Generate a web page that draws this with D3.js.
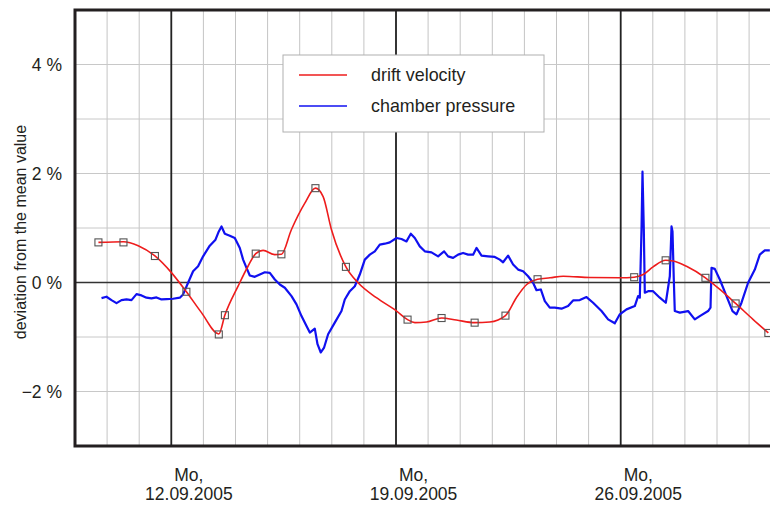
<!DOCTYPE html>
<html>
<head>
<meta charset="utf-8">
<script src="https://cdn.jsdelivr.net/npm/d3@7"></script>
<style>
  html, body { margin: 0; padding: 0; background: #fff; }
  svg { display: block; font-family: "Liberation Sans", Arial, sans-serif; }
</style>
</head>
<body>
<div id="chart"></div>
<script>
// ---------- data (days since Fri 09.09.2005 00:00, values in % deviation) ----------
const startDate = Date.UTC(2005, 8, 9);

const redDays = [0.73, 1.51, 1.97, 2.49, 3.01, 3.47, 3.94, 4.48, 4.67, 5.08, 5.39, 5.63, 5.86, 6.22, 6.43,
  6.74, 7.16, 7.49, 7.73, 7.99, 8.44, 8.82, 9.39, 10.02, 10.36, 10.59, 10.95, 11.42, 11.88, 12.45, 12.92,
  13.41, 13.75, 14.07, 14.41, 14.80, 15.21, 16.04, 16.97, 17.42, 17.70, 18.01, 18.40, 18.63, 19.05, 19.64,
  20.09, 20.58, 21.12, 21.60];
const redValues = [0.736, 0.749, 0.676, 0.488, 0.177, -0.170, -0.553, -0.944, -0.597, -0.068, 0.298, 0.530,
  0.590, 0.511, 0.517, 0.968, 1.456, 1.731, 1.576, 0.968, 0.287, -0.005, -0.279, -0.524, -0.681, -0.736,
  -0.725, -0.652, -0.689, -0.736, -0.725, -0.608, -0.279, -0.037, 0.060, 0.086, 0.115, 0.091, 0.086, 0.097,
  0.146, 0.287, 0.407, 0.396, 0.298, 0.086, -0.128, -0.384, -0.676, -0.926];

const markerDays = [0.73, 1.51, 2.49, 3.47, 4.48, 4.67, 5.63, 6.43, 7.49, 8.44, 10.36, 11.42, 12.45, 13.41,
  14.41, 17.42, 18.40, 19.64, 20.58, 21.60];
const markerValues = [0.736, 0.736, 0.486, -0.170, -0.953, -0.600, 0.530, 0.517, 1.731, 0.287, -0.681, -0.652,
  -0.737, -0.608, 0.060, 0.097, 0.407, 0.086, -0.384, -0.926];

const blueDays = [0.826, 0.981, 1.137, 1.293, 1.449, 1.604, 1.760, 1.916, 2.072, 2.227, 2.383, 2.539, 2.695,
  2.850, 3.056, 3.265, 3.368, 3.523, 3.679, 3.835, 3.991, 4.199, 4.377, 4.480, 4.564, 4.667, 4.822, 4.978,
  5.134, 5.237, 5.343, 5.445, 5.601, 5.757, 5.913, 6.069, 6.225, 6.380, 6.536, 6.745, 6.900, 7.056, 7.212,
  7.315, 7.470, 7.555, 7.657, 7.760, 7.885, 8.093, 8.302, 8.405, 8.561, 8.717, 8.872, 9.028, 9.184, 9.340,
  9.495, 9.651, 9.807, 10.016, 10.171, 10.327, 10.461, 10.586, 10.741, 10.897, 11.106, 11.312, 11.498,
  11.623, 11.779, 11.935, 12.090, 12.246, 12.402, 12.508, 12.664, 12.869, 13.078, 13.234, 13.336, 13.492,
  13.648, 13.804, 13.960, 14.115, 14.271, 14.377, 14.511, 14.636, 14.791, 14.947, 15.156, 15.361, 15.517,
  15.726, 15.935, 16.140, 16.402, 16.607, 16.816, 16.972, 17.181, 17.439, 17.542, 17.595, 17.648, 17.679,
  17.720, 17.751, 17.854, 18.009, 18.218, 18.405, 18.530, 18.583, 18.614, 18.654, 18.685, 18.841, 19.100,
  19.308, 19.464, 19.723, 19.798, 19.829, 19.931, 20.087, 20.296, 20.483, 20.607, 20.763, 20.969, 21.178,
  21.333, 21.489, 21.645];
const blueValues = [-0.287, -0.261, -0.323, -0.378, -0.323, -0.311, -0.323, -0.214, -0.237, -0.279, -0.292,
  -0.274, -0.311, -0.305, -0.298, -0.279, -0.219, -0.005, 0.206, 0.298, 0.480, 0.676, 0.785, 0.937, 1.028,
  0.895, 0.858, 0.816, 0.634, 0.420, 0.268, 0.128, 0.104, 0.146, 0.188, 0.177, 0.055, -0.037, -0.097,
  -0.250, -0.402, -0.616, -0.798, -0.919, -0.846, -1.132, -1.284, -1.193, -0.950, -0.736, -0.524, -0.311,
  -0.159, -0.068, 0.146, 0.420, 0.511, 0.572, 0.694, 0.712, 0.736, 0.816, 0.798, 0.754, 0.895, 0.816, 0.663,
  0.572, 0.553, 0.480, 0.572, 0.480, 0.451, 0.511, 0.542, 0.511, 0.511, 0.634, 0.493, 0.480, 0.469, 0.420,
  0.371, 0.493, 0.329, 0.237, 0.206, 0.115, -0.005, -0.141, -0.128, -0.342, -0.462, -0.462, -0.480, -0.433,
  -0.329, -0.323, -0.268, -0.371, -0.524, -0.676, -0.749, -0.584, -0.493, -0.433, -0.250, -0.279, 0.968,
  2.033, 0.968, -0.188, -0.159, -0.159, -0.279, -0.371, 0.115, 1.028, 0.937, 0.055, -0.524, -0.553, -0.524,
  -0.676, -0.616, -0.524, -0.462, 0.268, 0.250, 0.055, -0.250, -0.524, -0.584, -0.371, -0.005, 0.237, 0.511,
  0.590, 0.590];

const yTickValues = [4, 2, 0, -2];
const mondayDays = [3, 10, 17];
const weekdayLabels = ["Mo,", "Mo,", "Mo,"];
const dateLabels = ["12.09.2005", "19.09.2005", "26.09.2005"];
const seriesNames = ["drift velocity", "chamber pressure"];
const seriesColors = ["#ee1c1c", "#1010f0"];
const yTitle = "deviation from the mean value";

// ---------- layout ----------
const W = 770, H = 507;
const margin = { left: 75, top: 10, bottom: 446 };
const dayMs = 86400000;
const toDate = d => new Date(startDate + d * dayMs);

const x = d3.scaleUtc()
  .domain([toDate(0), toDate(22)])
  .range([margin.left, margin.left + 22 * 32.1]);
const y = d3.scaleLinear().domain([-3, 5]).range([margin.bottom, margin.top]);

const svg = d3.select("#chart").append("svg").attr("width", W).attr("height", H);

svg.append("defs").append("clipPath").attr("id", "plotclip")
  .append("rect").attr("x", margin.left).attr("y", margin.top)
  .attr("width", x.range()[1] - margin.left).attr("height", margin.bottom - margin.top);

const grid = svg.append("g");
const dayTicks = d3.utcDay.range(toDate(1), toDate(22));
grid.selectAll("line.vday").data(dayTicks).join("line")
  .attr("x1", d => x(d)).attr("x2", d => x(d))
  .attr("y1", margin.top).attr("y2", margin.bottom)
  .attr("stroke", "#c4c4c4").attr("stroke-width", 1);
grid.selectAll("line.hgrid").data(d3.range(-2, 5)).join("line")
  .attr("x1", margin.left).attr("x2", W)
  .attr("y1", d => y(d)).attr("y2", d => y(d))
  .attr("stroke", d => d === 0 ? "#333" : "#c8c8c8")
  .attr("stroke-width", d => d === 0 ? 1.6 : 1);
grid.selectAll("line.mon").data(mondayDays).join("line")
  .attr("x1", d => x(toDate(d))).attr("x2", d => x(toDate(d)))
  .attr("y1", margin.top).attr("y2", margin.bottom)
  .attr("stroke", "#222").attr("stroke-width", 1.8);

// ---------- series ----------
const plot = svg.append("g").attr("clip-path", "url(#plotclip)");

const blueData = blueDays.map((d, i) => [toDate(d), blueValues[i]]);
const redData = redDays.map((d, i) => [toDate(d), redValues[i]]);
const markerData = markerDays.map((d, i) => [toDate(d), markerValues[i]]);

plot.append("path").datum(blueData)
  .attr("fill", "none").attr("stroke", seriesColors[1]).attr("stroke-width", 2.2)
  .attr("stroke-linejoin", "round")
  .attr("d", d3.line().x(d => x(d[0])).y(d => y(d[1])));

plot.append("path").datum(redData)
  .attr("fill", "none").attr("stroke", seriesColors[0]).attr("stroke-width", 1.6)
  .attr("d", d3.line().curve(d3.curveMonotoneX).x(d => x(d[0])).y(d => y(d[1])));

plot.selectAll("rect.mk").data(markerData).join("rect")
  .attr("x", d => x(d[0]) - 3.5).attr("y", d => y(d[1]) - 3.5)
  .attr("width", 7).attr("height", 7)
  .attr("fill", "none").attr("stroke", "#555").attr("stroke-width", 1.1);

// ---------- frame ----------
svg.append("path")
  .attr("d", `M${W + 5},${margin.top} H${margin.left} V${margin.bottom} H${W + 5}`)
  .attr("fill", "none").attr("stroke", "#231f20").attr("stroke-width", 3);

// ---------- y axis labels ----------
svg.selectAll("text.ytick").data(yTickValues).join("text")
  .attr("x", 62).attr("y", d => y(d)).attr("dy", "0.35em")
  .attr("text-anchor", "end").attr("font-size", 17.5).attr("fill", "#231f20")
  .text(d => (d < 0 ? "\u2212" + Math.abs(d) : d) + " %");

svg.append("text")
  .attr("transform", `translate(26,${232}) rotate(-90)`)
  .attr("text-anchor", "middle").attr("font-size", 16).attr("fill", "#231f20")
  .text(yTitle);

// ---------- x labels ----------
const xl = svg.selectAll("g.xl").data(mondayDays).join("g")
  .attr("transform", d => `translate(${x(toDate(d + 0.5)) + 1.5},0)`);
xl.append("text").attr("y", 481).attr("text-anchor", "middle").attr("font-size", 17.5)
  .attr("fill", "#231f20").text((d, i) => weekdayLabels[i]);
xl.append("text").attr("y", 500).attr("text-anchor", "middle").attr("font-size", 17.5)
  .attr("fill", "#231f20").text((d, i) => dateLabels[i]);

// ---------- legend ----------
const lg = svg.append("g");
lg.append("rect").attr("x", 283).attr("y", 55).attr("width", 261).attr("height", 77)
  .attr("fill", "#fff").attr("stroke", "#b0b0b0").attr("stroke-width", 1);
const legendYs = [75, 106];
seriesNames.forEach((name, i) => {
  lg.append("line").attr("x1", 299).attr("x2", 347)
    .attr("y1", legendYs[i]).attr("y2", legendYs[i])
    .attr("stroke", seriesColors[i]).attr("stroke-width", 1.6);
  lg.append("text").attr("x", 371).attr("y", legendYs[i]).attr("dy", "0.35em")
    .attr("font-size", 17.9).attr("fill", "#231f20").text(name);
});
</script>
</body>
</html>
